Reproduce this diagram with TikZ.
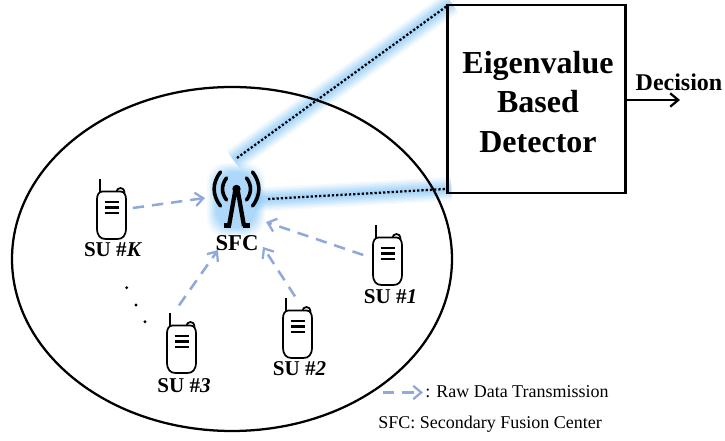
\documentclass[tikz,border=0pt]{standalone}
\usepackage{fontspec}
\setmainfont{Liberation Serif}
\usetikzlibrary{arrows.meta,calc}
\definecolor{arrowblue}{HTML}{8FA9DB}
\definecolor{glowblue}{HTML}{7CC4FA}
\tikzset{
  x=0.75pt,y=-0.75pt,
  link/.style={draw=arrowblue,line width=1.9pt,dash pattern=on 8.5pt off 6pt,-{Straight Barb[length=6pt,width=10pt,line width=1.7pt]}},
  phonebox/.style={minimum width=24pt,minimum height=44pt,inner sep=0pt},
  sulabel/.style={font=\bfseries\fontsize{15.8}{18}\selectfont,inner sep=0pt},
  dotlink/.style={line width=1.7pt,dash pattern=on 1.7pt off 1.5pt},
  towerstroke/.style={line width=2.7pt,line cap=round},
  phone/.pic={
    \draw[line width=1.3pt] (9,-18) circle [radius=4];
    \draw[line width=1.3pt] (-11.5,-18) -- (-11.5,-31);
    \draw[line width=1.3pt,fill=white] (-9,-18.5) -- (9,-18.5) .. controls (12.5,-18.5) and (14.5,-15) .. (14.5,-11) -- (14.5,18) .. controls (14.5,26) and (11,29) .. (6,29) -- (-6,29) .. controls (-11,29) and (-14.5,26) .. (-14.5,18) -- (-14.5,-11) .. controls (-14.5,-15) and (-12.5,-18.5) .. (-9,-18.5) -- cycle;
    \foreach \yy in {-8,-2.5,3} \draw[line width=1.8pt] (-7,\yy) -- (7,\yy);
  }
}
\begin{document}
\begin{tikzpicture}
\useasboundingbox (0,0) rectangle (725,441);
\fill[white] (0,0) rectangle (725,441);
% glow
\coordinate (upperstart) at (237,158);
\coordinate (lowerstart) at (268,199);
\coordinate (boxtop) at (447,6);
\coordinate (boxbot) at (446,189);
\foreach \w/\o in {24/0.07,21/0.09,18/0.11,15/0.13,12/0.15,9/0.17,6/0.17}{
  \draw[glowblue,line width=\w*0.75pt,opacity=\o,line cap=butt] ($(upperstart)!-3pt!(boxtop)$) -- ($(boxtop)!-4pt!(upperstart)$);
  \draw[glowblue,line width=\w*0.75pt,opacity=\o,line cap=butt] ($(lowerstart)!-10pt!(boxbot)$) -- ($(boxbot)!-4pt!(lowerstart)$);
  \fill[glowblue,opacity=\o,rounded corners=14pt] ($(207,163)+(12-\w/2,12-\w/2)$) rectangle ($(265,237)+(\w/2-12,\w/2-12)$);
}
% region
\draw[line width=1.7pt] (232,259) ellipse [x radius=220,y radius=172];
% detector
\node[draw,line width=2.2pt,minimum width=134pt,minimum height=141pt,inner sep=0pt] (det) at (536.5,99) {};
\node[align=center,inner sep=0pt,font=\bfseries\fontsize{24}{29.6}\selectfont] (dettext) at (538,102) {Eigenvalue\\Based\\Detector};
\coordinate (decend) at (680,100);
\draw[line width=1.7pt,-{Straight Barb[length=6pt,width=10pt,line width=1.7pt]}] (det.east |- decend) -- (decend);
\node[font=\bfseries\fontsize{18}{20}\selectfont,inner sep=0pt] (dec) at (679,82) {Decision};
% dotted links
\draw[dotlink] (upperstart) -- (boxtop);
\draw[dotlink] (lowerstart) -- (boxbot);
% tower
\node[minimum width=46pt,minimum height=64pt,inner sep=0pt] (tower) at (236,198) {};
\begin{scope}[shift={(236.5,189)}]
  \fill (0,0) circle [radius=4.2];
  \draw[line width=3.2pt,line join=round] (-7.5,37) -- (-1,0) -- (1,0) -- (7.5,37);
  \fill (-13,34.5) rectangle (-6,39.5);
  \fill (6,34.5) rectangle (13,39.5);
  \draw[towerstroke] (-10,-11) .. controls (-15.3,-4) and (-15.3,4) .. (-10,11);
  \draw[towerstroke] (10,-11) .. controls (15.3,-4) and (15.3,4) .. (10,11);
  \draw[towerstroke] (-16,-17) .. controls (-24.5,-6) and (-24.5,6) .. (-16,17);
  \draw[towerstroke] (16,-17) .. controls (24.5,-6) and (24.5,6) .. (16,17);
\end{scope}
\node[sulabel,font=\bfseries\fontsize{17}{19}\selectfont] (sfc) at (237,243) {SFC};
% phones
\node[phonebox] (suk) at (111.5,210) {}; \pic at (111.5,210) {phone};
\node[phonebox] (su1) at (387.5,256) {}; \pic at (387.5,256) {phone};
\node[phonebox] (su2) at (297.5,329) {}; \pic at (297.5,329) {phone};
\node[phonebox] (su3) at (181.5,344) {}; \pic at (181.5,344) {phone};
\node[sulabel] (lk) at (113,250) {SU \#\textit{K}};
\node[sulabel] (l1) at (390.5,297) {SU \#\textit{1}};
\node[sulabel] (l2) at (299.5,369) {SU \#\textit{2}};
\node[sulabel] (l3) at (184,386) {SU \#\textit{3}};
% links
\coordinate (tk) at (205,198);
\coordinate (t1) at (266,222);
\coordinate (t2) at (263,247);
\coordinate (t3) at (218,250);
\draw[link] (suk.east) ++(5,-2) -- (tk);
\draw[link] (su1.west) ++(-8,-1) -- (t1);
\draw[link] (su2.north) ++(-2.5,-3) -- (t2);
\draw[link] (su3.north) ++(-2.5,-9) -- (t3);
% ellipsis dots
\foreach \p in {(126.7,287.7),(136,305),(145,321.7)} \fill \p circle [radius=1.6];
% legend
\coordinate (la) at (383,392.5);
\coordinate (lb) at (423,392.5);
\draw[link] (la) -- (lb);
\node[anchor=west,inner sep=0pt,font=\fontsize{13.5}{15}\selectfont] (leg1) at (425,392) {: Raw Data Transmission};
\node[anchor=west,inner sep=0pt,font=\fontsize{13.5}{15}\selectfont] (leg2) at (378,424) {SFC: Secondary Fusion Center};
\end{tikzpicture}
\end{document}
